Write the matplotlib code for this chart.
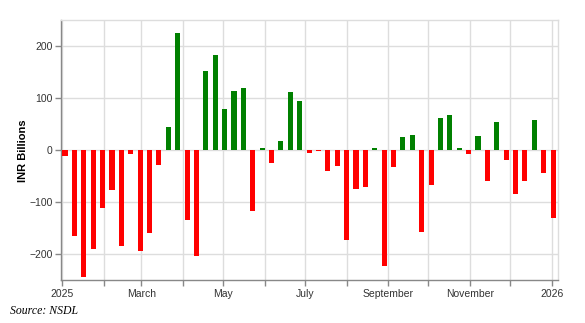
import numpy as np
import pandas as pd
import matplotlib
matplotlib.use("Agg")
import matplotlib.pyplot as plt
import matplotlib.dates as mdates

# weekly net FPI flows, INR billions (week ending Friday)
weeks = pd.date_range("2025-01-03", periods=53, freq="7D")
flows = [
    -11, -164, -244, -189, -110, -77, -184, -8, -194, -159, -28, 44, 225,
    -134, -203, 152, 183, 79, 113, 120, -116, 4, -24, 17, 111, 94, -6,
    -1, -40, -31, -173, -74, -70, 4, -222, -32, 25, 29, -157, -67, 61,
    68, 5, -8, 28, -59, 54, -18, -84, -59, 59, -43, -131,
]

month_ticks = pd.date_range("2025-01-01", "2026-01-01", freq="MS")
month_labels = ["2025", "", "March", "", "May", "", "July", "",
                "September", "", "November", "", "2026"]
y_ticks = [-200, -100, 0, 100, 200]

plt.rcParams["font.family"] = ["Liberation Sans", "DejaVu Sans"]

fig = plt.figure(figsize=(5.85, 3.23), dpi=100)
ax = fig.add_axes([0.1043, 0.1316, 0.849, 0.8065])

colors = ["#008000" if v >= 0 else "#ff0000" for v in flows]
ax.bar(weeks, flows, width=3.8, color=colors, zorder=3)

ax.set_xlim(pd.Timestamp("2024-12-31"), pd.Timestamp("2026-01-05 10:00"))
ax.set_ylim(-250, 250)

ax.set_xticks(month_ticks)
ax.set_xticklabels(month_labels)
ax.set_yticks(y_ticks)

ax.grid(True, color="#dddddd", linewidth=1.0, zorder=0)
for side in ["top", "right"]:
    ax.spines[side].set_color("#dddddd")
    ax.spines[side].set_linewidth(1.0)
for side in ["left", "bottom"]:
    ax.spines[side].set_color("#888888")
    ax.spines[side].set_linewidth(1.0)

ax.tick_params(axis="both", length=4, width=1, color="#888888",
               labelsize=7.5, labelcolor="#333333", pad=2)

ax.set_ylabel("INR Billions", fontsize=8, fontweight="bold", labelpad=1)

fig.text(0.017, 0.036, "Source: NSDL", fontsize=8.5, style="italic",
         family="Liberation Serif", va="center")

fig.savefig("out.png", dpi=100)
